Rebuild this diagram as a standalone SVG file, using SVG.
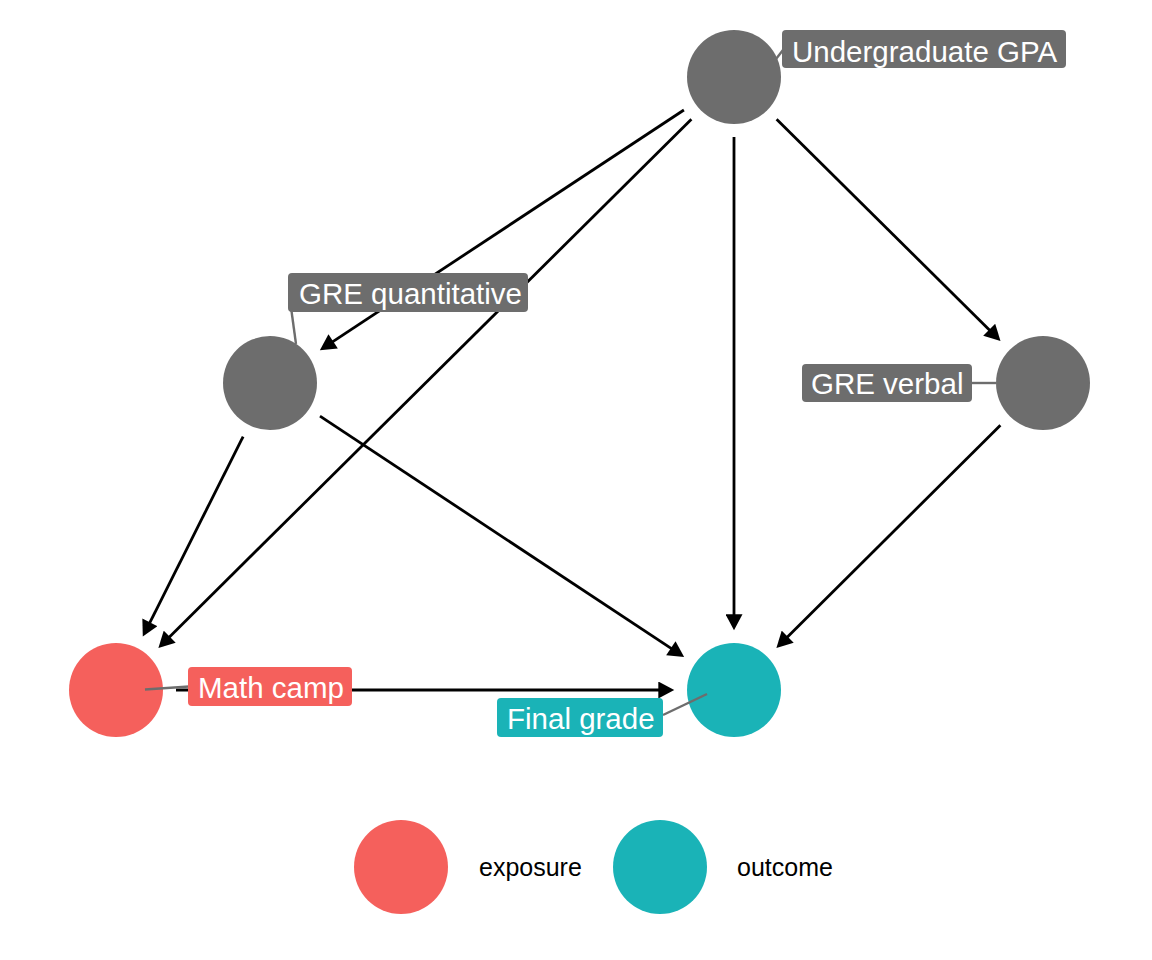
<svg xmlns="http://www.w3.org/2000/svg" width="1152" height="960" viewBox="0 0 1152 960">
<style>
.edge{stroke:#000;stroke-width:2.8;fill:none;marker-end:url(#arr)}
.lead{stroke:#6d6d6d;stroke-width:2.4;fill:none}
.lbl{font-family:"Liberation Sans",Arial,sans-serif;font-size:29.5px;fill:#fff}
.leg{font-family:"Liberation Sans",Arial,sans-serif;font-size:25px;fill:#000}
.grey{fill:#6d6d6d}
.red{fill:#f5605c}
.teal{fill:#1ab3b7}
</style>
<defs>
<marker id="arr" markerUnits="userSpaceOnUse" markerWidth="17" markerHeight="17" viewBox="0 0 15 16" refX="11" refY="8" orient="auto">
<path d="M0,0 L15,8 L0,16 Z" fill="#000"/>
</marker>
</defs>
<rect width="1152" height="960" fill="#fff"/>
<g id="node-shapes">
<circle class="grey" cx="734" cy="77" r="47"/>
<circle class="grey" cx="270" cy="383" r="47"/>
<circle class="grey" cx="1043" cy="383" r="47"/>
<circle class="red" cx="116" cy="690" r="47"/>
<circle class="teal" cx="734" cy="690" r="47"/>
</g>
<g id="edges">
<line class="edge" x1="683.9" y1="110.0" x2="323.4" y2="347.8"/>
<line class="edge" x1="691.4" y1="119.3" x2="161.4" y2="644.9"/>
<line class="edge" x1="734" y1="137" x2="734" y2="626"/>
<line class="edge" x1="776.6" y1="119.2" x2="997.5" y2="338.0"/>
<line class="edge" x1="243.1" y1="436.6" x2="144.7" y2="632.8"/>
<line class="edge" x1="320.0" y1="416.1" x2="680.6" y2="654.7"/>
<line class="edge" x1="1000.4" y1="425.3" x2="779.4" y2="644.9"/>
<line class="edge" x1="176" y1="690" x2="670" y2="690"/>
</g>
<g id="node-gpa">
<line class="lead" x1="776" y1="59" x2="783" y2="50"/>
<rect class="grey" x="782" y="30" width="284" height="38" rx="4"/>
<text class="lbl" x="792" y="61.5">Undergraduate GPA</text>
</g>
<g id="node-gre-quant">
<line class="lead" x1="290" y1="300" x2="296" y2="344"/>
<rect class="grey" x="288" y="273" width="240" height="39" rx="4"/>
<text class="lbl" x="299" y="303.5">GRE quantitative</text>
</g>
<g id="node-gre-verbal">
<line class="lead" x1="972" y1="383" x2="996" y2="383"/>
<rect class="grey" x="802" y="364" width="170" height="38" rx="4"/>
<text class="lbl" x="811" y="393.5">GRE verbal</text>
</g>
<g id="node-math-camp">
<line class="lead" x1="145" y1="689.5" x2="189" y2="686.5"/>
<rect class="red" x="188" y="667" width="164" height="39" rx="4"/>
<text class="lbl" x="198" y="697.5">Math camp</text>
</g>
<g id="node-final-grade">
<line class="lead" x1="663" y1="715" x2="707" y2="694"/>
<rect class="teal" x="497" y="698" width="166" height="39" rx="4"/>
<text class="lbl" x="507" y="728.5">Final grade</text>
</g>
<g id="legend">
<circle class="red" cx="401" cy="867" r="47"/>
<text class="leg" x="479" y="876">exposure</text>
<circle class="teal" cx="660" cy="867" r="47"/>
<text class="leg" x="737" y="876">outcome</text>
</g>
</svg>
